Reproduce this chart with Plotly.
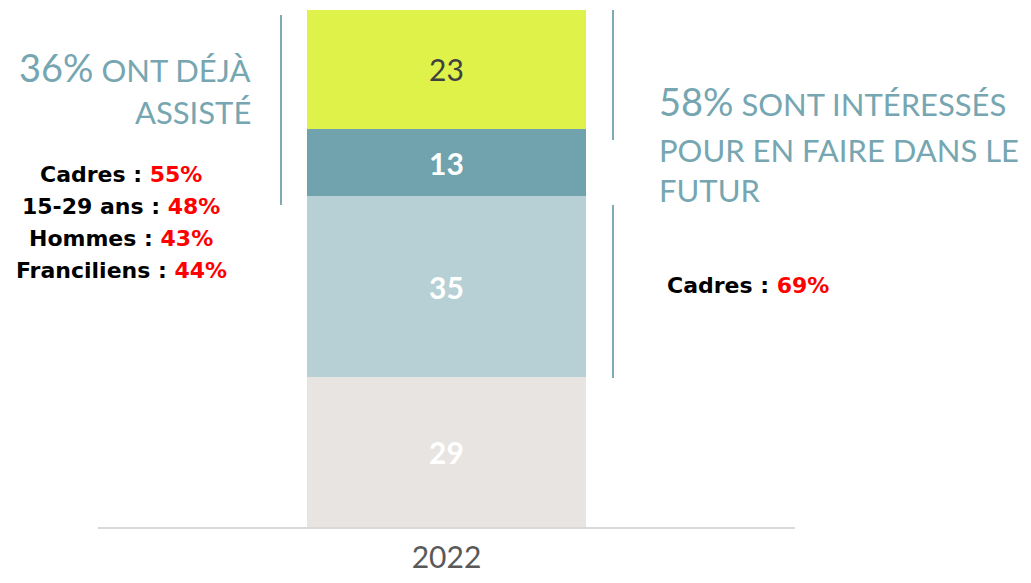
import plotly.graph_objects as go

# Données
annee = ["2022"]
segments = ["Pas intéressés", "Intéressés", "Assisté, intéressé", "Assisté"]
valeurs = [29, 35, 13, 23]
couleurs = ["#e7e4e1", "#b6d0d5", "#71a3ae", "#dff24a"]
couleurs_texte = ["white", "white", "white", "#404040"]

cibles_gauche = ["Cadres", "15-29 ans", "Hommes", "Franciliens"]
pct_gauche = ["55%", "48%", "43%", "44%"]
cibles_droite = ["Cadres"]
pct_droite = ["69%"]

TEAL = "#76a6b1"
FONT = "Lato"
BOLD = "DejaVu Sans"

fig = go.Figure()
for seg, v, c, tc in zip(segments, valeurs, couleurs, couleurs_texte):
    bold = tc == "white"
    fig.add_trace(go.Bar(
        x=annee, y=[v], name=seg, marker_color=c, marker_line_width=0,
        text=[f"<b>{v}</b>" if bold else str(v)],
        textposition="inside", insidetextanchor="middle",
        textfont=dict(color=tc, size=30, family=FONT),
        hoverinfo="skip",
    ))

# zone de tracé en pixels écran (la page a une marge de 8 px)
OFF = 8
W, H = 1031 - 2 * OFF, 583 - 2 * OFF
X0, X1, Y0, Y1 = 98, 795, 527, 10
def px(x):
    return (x - X0) / (X1 - X0)
def py(y):
    return (Y0 - y) / (Y0 - Y1)

ann = []
titre = dict(size=31, color=TEAL, family=FONT)
# titre gauche
ann.append(dict(x=px(253), y=py(67), text="<span style='font-size:38px'>36%</span> ONT DÉJÀ",
                xanchor="right", font=titre))
ann.append(dict(x=px(253), y=py(112), text="ASSISTÉ", xanchor="right", font=titre))
# détail gauche
for i, (c, p) in enumerate(zip(cibles_gauche, pct_gauche)):
    ann.append(dict(x=px(121), y=py(174 + i * 32.3),
                    text=f"<b>{c} : <span style='color:#ff0000'>{p}</span></b>",
                    xanchor="center", font=dict(size=22, color="black", family=BOLD)))
# titre droite
ann.append(dict(x=px(657), y=py(101), text="<span style='font-size:38px'>58%</span> SONT INTÉRESSÉS",
                xanchor="left", font=titre))
ann.append(dict(x=px(657), y=py(150), text="POUR EN FAIRE DANS LE", xanchor="left", font=titre))
ann.append(dict(x=px(657), y=py(190), text="FUTUR", xanchor="left", font=titre))
# détail droite
for i, (c, p) in enumerate(zip(cibles_droite, pct_droite)):
    ann.append(dict(x=px(665), y=py(285 + i * 32.3),
                    text=f"<b>{c} : <span style='color:#ff0000'>{p}</span></b>",
                    xanchor="left", font=dict(size=22, color="black", family=BOLD)))
for a in ann:
    a.update(xref="paper", yref="paper", yanchor="middle", showarrow=False)

shapes = []
for x, ya, yb in [(281, 15, 205), (613, 10, 140), (613, 205, 378)]:
    shapes.append(dict(type="line", xref="paper", yref="paper",
                       x0=px(x), x1=px(x), y0=py(ya), y1=py(yb),
                       line=dict(color="#7fa9b3", width=2)))

fig.update_layout(
    barmode="stack", bargap=0.6,
    width=W, height=H,
    margin=dict(l=X0 - OFF, r=W - (X1 - OFF), t=Y1 - OFF, b=H - (Y0 - OFF)),
    plot_bgcolor="white", paper_bgcolor="white",
    showlegend=False,
    annotations=ann, shapes=shapes,
    xaxis=dict(showline=True, linecolor="#d9d9d9", linewidth=2, ticks="",
               tickfont=dict(size=30, color="#595959", family=FONT),
               ticklabelstandoff=3, automargin=False, fixedrange=True),
    yaxis=dict(range=[0, 100], visible=False, automargin=False, fixedrange=True),
)

fig.write_html("out.html")
